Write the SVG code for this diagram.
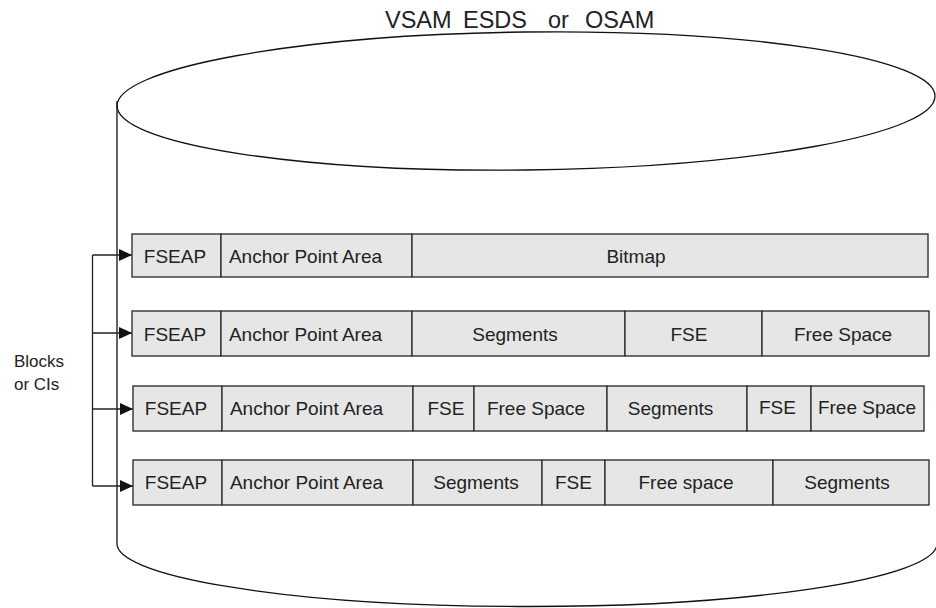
<svg xmlns="http://www.w3.org/2000/svg" width="936" height="608" viewBox="0 0 936 608">
<defs>
<style>
.cyl{fill:none;stroke:#111;stroke-width:1.3}
.cell{fill:#e6e6e6;stroke:#333;stroke-width:1.4}
.t{font-family:"Liberation Sans",Arial,sans-serif;font-size:19px;fill:#222;text-anchor:middle}
.title{font-family:"Liberation Sans",Arial,sans-serif;font-size:23.5px;fill:#222}
.lbl{font-family:"Liberation Sans",Arial,sans-serif;font-size:17px;fill:#222}
.conn{fill:none;stroke:#222;stroke-width:1.3}
</style>
<marker id="arr" markerUnits="userSpaceOnUse" markerWidth="13" markerHeight="12" refX="13" refY="6" orient="auto">
<path d="M0,0 L13,6 L0,12 z" fill="#111"/>
</marker>
</defs>
<rect width="936" height="608" fill="#fff"/>
<g id="title">
<text class="title" x="385" y="28">VSAM</text>
<text class="title" x="463" y="28">ESDS</text>
<text class="title" x="548" y="28">or</text>
<text class="title" x="585" y="28">OSAM</text>
</g>
<g id="cylinder">
<ellipse class="cyl" cx="526" cy="101" rx="409" ry="69" transform="rotate(-0.7 526 101)"/>
<line class="cyl" x1="117" y1="101" x2="117" y2="542"/>
<path class="cyl" d="M117,542 A410,63 0 0 0 937,545"/>
</g>
<g id="label">
<text class="lbl" x="14" y="367">Blocks</text>
<text class="lbl" x="14" y="390">or CIs</text>
</g>
<g id="connectors">
<path class="conn" d="M92.5,255 V486"/>
<path class="conn" d="M92.5,255 H132" marker-end="url(#arr)"/>
<path class="conn" d="M92.5,333 H132" marker-end="url(#arr)"/>
<path class="conn" d="M92.5,409 H133" marker-end="url(#arr)"/>
<path class="conn" d="M92.5,486 H133" marker-end="url(#arr)"/>
</g>
<g id="row1">
<rect class="cell" x="132" y="234" width="89" height="43"/>
<rect class="cell" x="221" y="234" width="191" height="43"/>
<rect class="cell" x="412" y="234" width="516" height="43"/>
<text class="t" x="175" y="262.5">FSEAP</text>
<text class="t" x="305.5" y="262.5">Anchor Point Area</text>
<text class="t" x="636" y="262.5">Bitmap</text>
</g>
<g id="row2">
<rect class="cell" x="132" y="311" width="89" height="45"/>
<rect class="cell" x="221" y="311" width="191" height="45"/>
<rect class="cell" x="412" y="311" width="213" height="45"/>
<rect class="cell" x="625" y="311" width="137" height="45"/>
<rect class="cell" x="762" y="311" width="167" height="45"/>
<text class="t" x="175" y="340.5">FSEAP</text>
<text class="t" x="305.5" y="340.5">Anchor Point Area</text>
<text class="t" x="515" y="340.5">Segments</text>
<text class="t" x="689" y="340.5">FSE</text>
<text class="t" x="843" y="340.5">Free Space</text>
</g>
<g id="row3">
<rect class="cell" x="133" y="386" width="89" height="45"/>
<rect class="cell" x="222" y="386" width="191" height="45"/>
<rect class="cell" x="413" y="386" width="61" height="45"/>
<rect class="cell" x="474" y="386" width="133" height="45"/>
<rect class="cell" x="607" y="386" width="140" height="45"/>
<rect class="cell" x="747" y="386" width="64" height="45"/>
<rect class="cell" x="811" y="386" width="113" height="45"/>
<text class="t" x="176" y="415">FSEAP</text>
<text class="t" x="306.5" y="415">Anchor Point Area</text>
<text class="t" x="446" y="415">FSE</text>
<text class="t" x="536" y="415">Free Space</text>
<text class="t" x="670.5" y="415">Segments</text>
<text class="t" x="777.5" y="413.5">FSE</text>
<text class="t" x="867" y="413.5">Free Space</text>
</g>
<g id="row4">
<rect class="cell" x="133" y="460" width="89" height="45"/>
<rect class="cell" x="222" y="460" width="191" height="45"/>
<rect class="cell" x="413" y="460" width="129" height="45"/>
<rect class="cell" x="542" y="460" width="63" height="45"/>
<rect class="cell" x="605" y="460" width="168" height="45"/>
<rect class="cell" x="773" y="460" width="156" height="45"/>
<text class="t" x="176" y="489">FSEAP</text>
<text class="t" x="306.5" y="489">Anchor Point Area</text>
<text class="t" x="476" y="489">Segments</text>
<text class="t" x="573.5" y="489">FSE</text>
<text class="t" x="686" y="489">Free space</text>
<text class="t" x="847" y="489">Segments</text>
</g>
</svg>
